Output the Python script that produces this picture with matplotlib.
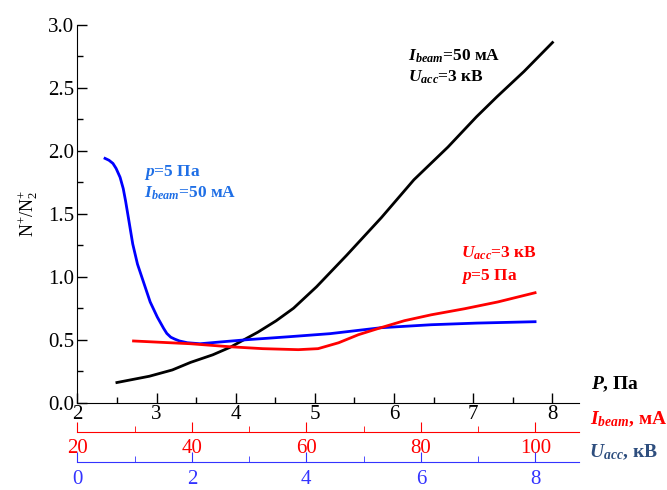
import matplotlib
matplotlib.use("Agg")
import matplotlib.pyplot as plt

plt.rcParams['font.family'] = 'Liberation Serif'
plt.rcParams['mathtext.fontset'] = 'custom'
plt.rcParams['mathtext.rm'] = 'Liberation Serif'
plt.rcParams['mathtext.it'] = 'Liberation Serif:italic'
plt.rcParams['mathtext.bf'] = 'Liberation Serif:bold'
plt.rcParams['mathtext.bfit'] = 'Liberation Serif:italic:bold'

# pressure scan (Ibeam=50 mA, Uacc=3 kV)
p_black = [2.50, 2.91, 3.20, 3.43, 3.71, 3.93, 4.28, 4.51, 4.73, 5.02, 5.40,
           5.84, 6.25, 6.68, 7.04, 7.30, 7.64, 8.00]
n_black = [0.16, 0.21, 0.26, 0.32, 0.38, 0.44, 0.56, 0.65, 0.75, 0.92, 1.17,
           1.47, 1.77, 2.03, 2.27, 2.43, 2.63, 2.86]

# voltage scan (p=5 Pa, Ibeam=50 mA), plotted on the P scale
p_blue = [2.35, 2.40, 2.45, 2.49, 2.54, 2.58, 2.61, 2.65, 2.70, 2.76, 2.84,
          2.92, 3.01, 3.09, 3.13, 3.18, 3.23, 3.29, 3.39, 3.55, 3.84, 4.14,
          4.68, 5.19, 5.83, 6.47, 7.04, 7.78]
n_blue = [1.94, 1.925, 1.90, 1.86, 1.79, 1.70, 1.60, 1.45, 1.26, 1.10, 0.95,
          0.80, 0.68, 0.59, 0.55, 0.52, 0.505, 0.49, 0.476, 0.468, 0.484, 0.50,
          0.524, 0.548, 0.595, 0.619, 0.632, 0.643]

# current scan (Uacc=3 kV, p=5 Pa), plotted on the P scale
p_red = [2.71, 3.43, 3.93, 4.34, 4.79, 5.04, 5.30, 5.55, 5.83, 6.13, 6.47,
         6.89, 7.31, 7.78]
n_red = [0.49, 0.468, 0.444, 0.429, 0.421, 0.429, 0.476, 0.54, 0.595, 0.651,
         0.698, 0.746, 0.80, 0.873]

ibeam_ticks = [20, 40, 60, 80, 100]
uacc_ticks = [0, 2, 4, 6, 8]

# 20 mA / 2 kV per step of 1.446 Pa on the main scale
step = 1.446

def p_to_i(p):
    return 20 + (p - 2) * 20 / step

def i_to_p(i):
    return 2 + (i - 20) * step / 20

def p_to_u(p):
    return (p - 2) * 2 / step

def u_to_p(u):
    return 2 + u * step / 2

fig = plt.figure(figsize=(6.67, 4.9), dpi=100)
ax = fig.add_axes([0.1159, 0.1782, 0.7522, 0.771])

ax.plot(p_black, n_black, color='black', lw=2.0)
ax.plot(p_blue, n_blue, color='#0000ff', lw=2.0)
ax.plot(p_red, n_red, color='#ff0000', lw=2.0)

ax.set_xlim(2, 8.335)
ax.set_ylim(0, 3.0)
ax.spines['top'].set_visible(False)
ax.spines['right'].set_visible(False)
ax.set_xticks([2, 3, 4, 5, 6, 7, 8])
ax.set_xticks([2.5, 3.5, 4.5, 5.5, 6.5, 7.5], minor=True)
ax.set_yticks([0, 0.5, 1.0, 1.5, 2.0, 2.5, 3.0])
ax.set_yticklabels(['0.0', '0.5', '1.0', '1.5', '2.0', '2.5', '3.0'])
ax.set_yticks([0.25, 0.75, 1.25, 1.75, 2.25, 2.75], minor=True)
ax.tick_params(which='major', direction='in', length=7, width=1.0, labelsize=15, pad=2)
ax.tick_params(which='minor', direction='in', length=4, width=1.0)
ax.set_ylabel(r'N$^{+}$/N$^{+}_{2}$', fontsize=13, labelpad=6)

# extra scales for current and voltage
red_ax = ax.secondary_xaxis(-0.0777, functions=(p_to_i, i_to_p))
red_ax.set_xticks(ibeam_ticks)
red_ax.set_xticks([30, 50, 70, 90], minor=True)
red_ax.spines['bottom'].set_color('#ff0000')
red_ax.tick_params(which='both', direction='in', colors='#ff0000', labelsize=15, pad=5)
red_ax.tick_params(which='major', length=7)
red_ax.tick_params(which='minor', length=4)

blue_ax = ax.secondary_xaxis(-0.1565, functions=(p_to_u, u_to_p))
blue_ax.set_xticks(uacc_ticks)
blue_ax.set_xticks([1, 3, 5, 7], minor=True)
blue_ax.spines['bottom'].set_color('#3333ff')
blue_ax.tick_params(which='both', direction='in', colors='#3333ff', labelsize=15, pad=6)
blue_ax.tick_params(which='major', length=7)
blue_ax.tick_params(which='minor', length=4)

# axis names on the right
fig.text(591 / 667, 1 - 384 / 490, r'$\mathbfit{P}$, Па', fontsize=14, fontweight='bold',
         color='black', va='center', ha='left')
fig.text(590 / 667, 1 - 419 / 490, r'$\mathbfit{I}_{\mathbfit{beam}}$, мА', fontsize=14,
         fontweight='bold', color='#ff0000', va='center', ha='left')
fig.text(589 / 667, 1 - 452 / 490, r'$\mathbfit{U}_{\mathbfit{acc}}$, кВ', fontsize=14,
         fontweight='bold', color='#2e4e7e', va='center', ha='left')

# curve annotations
ax.text(6.17, 2.75, r'$\mathbfit{I}_{\mathbfit{beam}}$=50 мА', fontsize=12.5, fontweight='bold',
        color='black', va='center')
ax.text(6.17, 2.58, r'$\mathbfit{U}_{\mathbfit{acc}}$=3 кВ', fontsize=12.5, fontweight='bold',
        color='black', va='center')
ax.text(2.84, 1.83, r'$\mathbfit{p}$=5 Па', fontsize=12.5, fontweight='bold',
        color='#1f6fe6', va='center')
ax.text(2.84, 1.66, r'$\mathbfit{I}_{\mathbfit{beam}}$=50 мА', fontsize=12.5, fontweight='bold',
        color='#1f6fe6', va='center')
ax.text(6.84, 1.19, r'$\mathbfit{U}_{\mathbfit{acc}}$=3 кВ', fontsize=12.5, fontweight='bold',
        color='#ff0000', va='center')
ax.text(6.84, 1.0, r'$\mathbfit{p}$=5 Па', fontsize=12.5, fontweight='bold',
        color='#ff0000', va='center')

fig.savefig('out.png', dpi=100)
